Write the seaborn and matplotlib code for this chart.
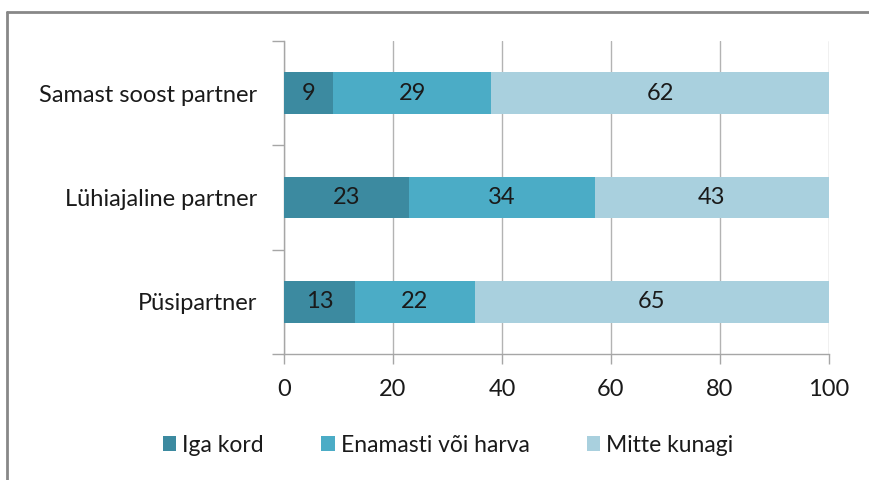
import matplotlib
matplotlib.use("Agg")
import matplotlib.pyplot as plt
import seaborn as sns
import pandas as pd
import numpy as np
from matplotlib.lines import Line2D
from matplotlib.patches import Patch

categories = ["Samast soost partner", "Lühiajaline partner", "Püsipartner"]
series_names = ["Iga kord", "Enamasti või harva", "Mitte kunagi"]
iga_kord = [9, 23, 13]
enamasti = [29, 34, 22]
mitte_kunagi = [62, 43, 65]
x_ticks = [0, 20, 40, 60, 80, 100]

colors = ["#3C8AA0", "#4BACC6", "#A9D0DE"]

sns.set_theme(style="white")
plt.rcParams["font.family"] = ["Lato", "DejaVu Sans"]
font_size = 17

df = pd.DataFrame({
    "category": categories,
    "Iga kord": iga_kord,
    "Enamasti või harva": enamasti,
    "Mitte kunagi": mitte_kunagi,
})
vals = df[series_names].values
cum = np.cumsum(vals, axis=1)

fig = plt.figure(figsize=(8.69, 4.8), dpi=100)
ax = fig.add_axes([284 / 869, 1 - 354 / 480, (829 - 284) / 869, (354 - 41) / 480])

# stacked: draw widest first
for i in reversed(range(len(series_names))):
    sns.barplot(x=cum[:, i], y=df["category"], orient="h", color=colors[i],
                width=0.4, ax=ax, saturation=1, linewidth=0, zorder=3)

# segment labels
for r in range(len(categories)):
    left = 0
    for i in range(len(series_names)):
        v = vals[r, i]
        ax.text(left + v / 2, r, str(v), ha="center", va="center",
                fontsize=font_size, color="#1a1a1a", zorder=5)
        left += v

ax.set_xlim(0, 100)
ax.set_ylim(2.5, -0.5)
ax.set_xticks(x_ticks)
ax.set_xticklabels([str(t) for t in x_ticks], fontsize=font_size, color="#1a1a1a")
ax.set_yticks(range(len(categories)))
ax.set_yticklabels(categories, fontsize=font_size, color="#1a1a1a")
ax.set_yticks([-0.5, 0.5, 1.5, 2.5], minor=True)
ax.tick_params(axis="y", which="major", length=0, pad=19)
ax.tick_params(axis="y", which="minor", length=9, width=1, color="#A6A6A6", left=True)
ax.tick_params(axis="x", which="major", length=7, width=1, color="#A6A6A6", bottom=True, pad=11)
ax.set_xlabel("")
ax.set_ylabel("")

ax.grid(axis="x", color="#B3B3B3", linewidth=1, zorder=0)
ax.set_axisbelow(True)
for s in ["top", "right"]:
    ax.spines[s].set_visible(False)
for s in ["left", "bottom"]:
    ax.spines[s].set_color("#A6A6A6")
    ax.spines[s].set_linewidth(1)

handles = [Patch(facecolor=c, edgecolor="none", label=n) for c, n in zip(colors, series_names)]
fig.legend(handles=handles, loc="center", bbox_to_anchor=(448 / 869, 1 - 445 / 480),
           ncol=3, frameon=False, fontsize=16.5, handlelength=0.6, handleheight=0.6,
           handletextpad=0.25, columnspacing=2.5, labelcolor="#1a1a1a")

# outer frame (top and left edges visible)
fig.add_artist(Line2D([7 / 869, 1.0], [1 - 12 / 480, 1 - 12 / 480], color="#888888", linewidth=2))
fig.add_artist(Line2D([7 / 869, 7 / 869], [0.0, 1 - 12 / 480], color="#888888", linewidth=2))

fig.savefig("out.png", dpi=100)
